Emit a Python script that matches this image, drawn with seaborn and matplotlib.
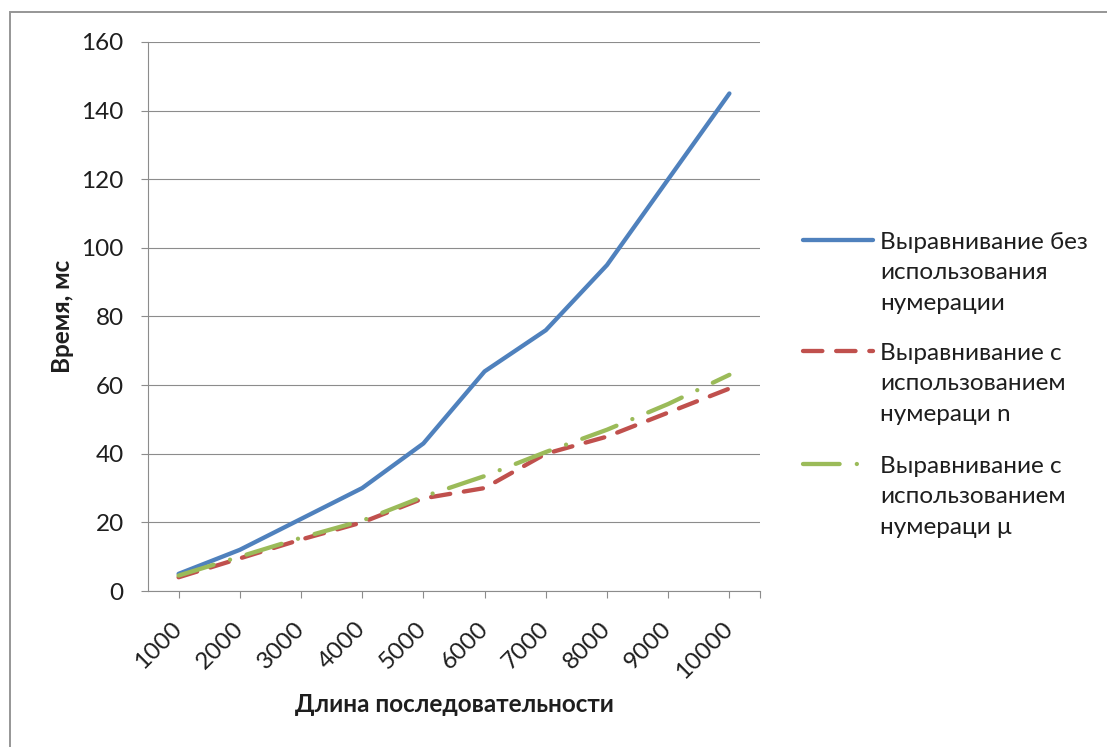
import matplotlib
matplotlib.use("Agg")
import matplotlib.pyplot as plt
import seaborn as sns
import pandas as pd
import numpy as np
from matplotlib.lines import Line2D
from matplotlib.patches import Rectangle

# --- data -------------------------------------------------------------
lengths = ["1000", "2000", "3000", "4000", "5000",
           "6000", "7000", "8000", "9000", "10000"]
t_plain = [5, 12, 21, 30, 43, 64, 76, 95, 120, 145]
t_num_n = [4, 9.5, 15, 20, 27, 30, 40, 45, 52, 59]
t_num_mu = [4.5, 10, 15.5, 20.5, 27.5, 33.5, 40.5, 47, 54.5, 63]

series_names = [
    "Выравнивание без\nиспользования\nнумерации",
    "Выравнивание с\nиспользованием\nнумераци n",
    "Выравнивание с\nиспользованием\nнумераци μ",
]
series_colors = ["#4F81BD", "#C0504D", "#9BBB59"]
series_dashes = ["", (4.5, 3.2), (8.5, 4, 0.01, 4)]

y_ticks = [0, 20, 40, 60, 80, 100, 120, 140, 160]
x_title = "Длина последовательности"
y_title = "Время, мс"

# --- style ------------------------------------------------------------
sns.set_theme(style="white")
plt.rcParams["font.family"] = ["Lato", "Noto Sans", "DejaVu Sans"]

W, H = 1107, 747
GRAY = "#8c8c8c"
TXT = "#1e1e1e"
LW = 3.1
FS = 17.5

fig = plt.figure(figsize=(W / 100, H / 100), dpi=100)
fig.patch.set_facecolor("white")
ax = fig.add_axes([148 / W, 1 - 591 / H, (760 - 148) / W, (591 - 42) / H])

# long-form table for seaborn
pos = np.arange(len(lengths))
df = pd.concat(
    [pd.DataFrame({"pos": pos, "time": vals, "series": name})
     for name, vals in zip(series_names, [t_plain, t_num_n, t_num_mu])],
    ignore_index=True,
)

sns.lineplot(
    data=df, x="pos", y="time",
    hue="series", style="series",
    hue_order=series_names, style_order=series_names,
    palette=dict(zip(series_names, series_colors)),
    dashes=dict(zip(series_names, series_dashes)),
    linewidth=LW, legend=False, errorbar=None, ax=ax,
    solid_capstyle="round", dash_capstyle="round",
)

# --- axes -------------------------------------------------------------
ax.set_xlim(-0.5, len(lengths) - 0.5)
ax.set_ylim(0, 160)
ax.set_yticks(y_ticks)
ax.set_yticklabels([str(v) for v in y_ticks])
ax.set_xticks(list(pos) + [len(lengths) - 0.5])
ax.set_xticklabels(lengths + [""], rotation=45, ha="right", va="center",
                   rotation_mode="anchor")

ax.set_axisbelow(True)
ax.yaxis.grid(True, color=GRAY, linewidth=0.8)
ax.xaxis.grid(False)
for side in ("top", "right"):
    ax.spines[side].set_visible(False)
for side in ("left", "bottom"):
    ax.spines[side].set_color(GRAY)
    ax.spines[side].set_linewidth(0.8)

ax.tick_params(axis="y", direction="out", length=5, width=0.8, color=GRAY,
               labelsize=FS, labelcolor=TXT, pad=12.5, left=True)
ax.tick_params(axis="x", direction="out", length=5, width=0.8, color=GRAY,
               labelsize=FS, labelcolor=TXT, pad=20, bottom=True)

ax.set_xlabel(x_title, fontsize=FS, fontweight="bold", color=TXT, va="center")
ax.set_ylabel(y_title, fontsize=FS, fontweight="bold", color=TXT, va="center")
ax.xaxis.set_label_coords(0.5, (591 - 705) / (591 - 42))
ax.yaxis.set_label_coords((62 - 148) / (760 - 148), 0.5)

# --- legend -----------------------------------------------------------
first_line_y = [240, 351, 464]
for name, color, dash, yc in zip(series_names, series_colors, series_dashes,
                                 first_line_y):
    ls = "-" if dash == "" else (0, dash)
    fig.add_artist(Line2D([803 / W, 873 / W], [1 - yc / H] * 2,
                          transform=fig.transFigure, color=color, lw=LW,
                          linestyle=ls, solid_capstyle="round",
                          dash_capstyle="round"))
    fig.text(880 / W, 1 - (yc - 8) / H, name, ha="left", va="top",
             fontsize=FS, color=TXT, linespacing=1.55)

# chart frame
fig.add_artist(Rectangle((10 / W, -0.2), 1.2, 1.2 - 12 / H,
                         transform=fig.transFigure, fill=False,
                         edgecolor="#969696", linewidth=1.4))

fig.savefig("out.png", dpi=100, facecolor="white")
